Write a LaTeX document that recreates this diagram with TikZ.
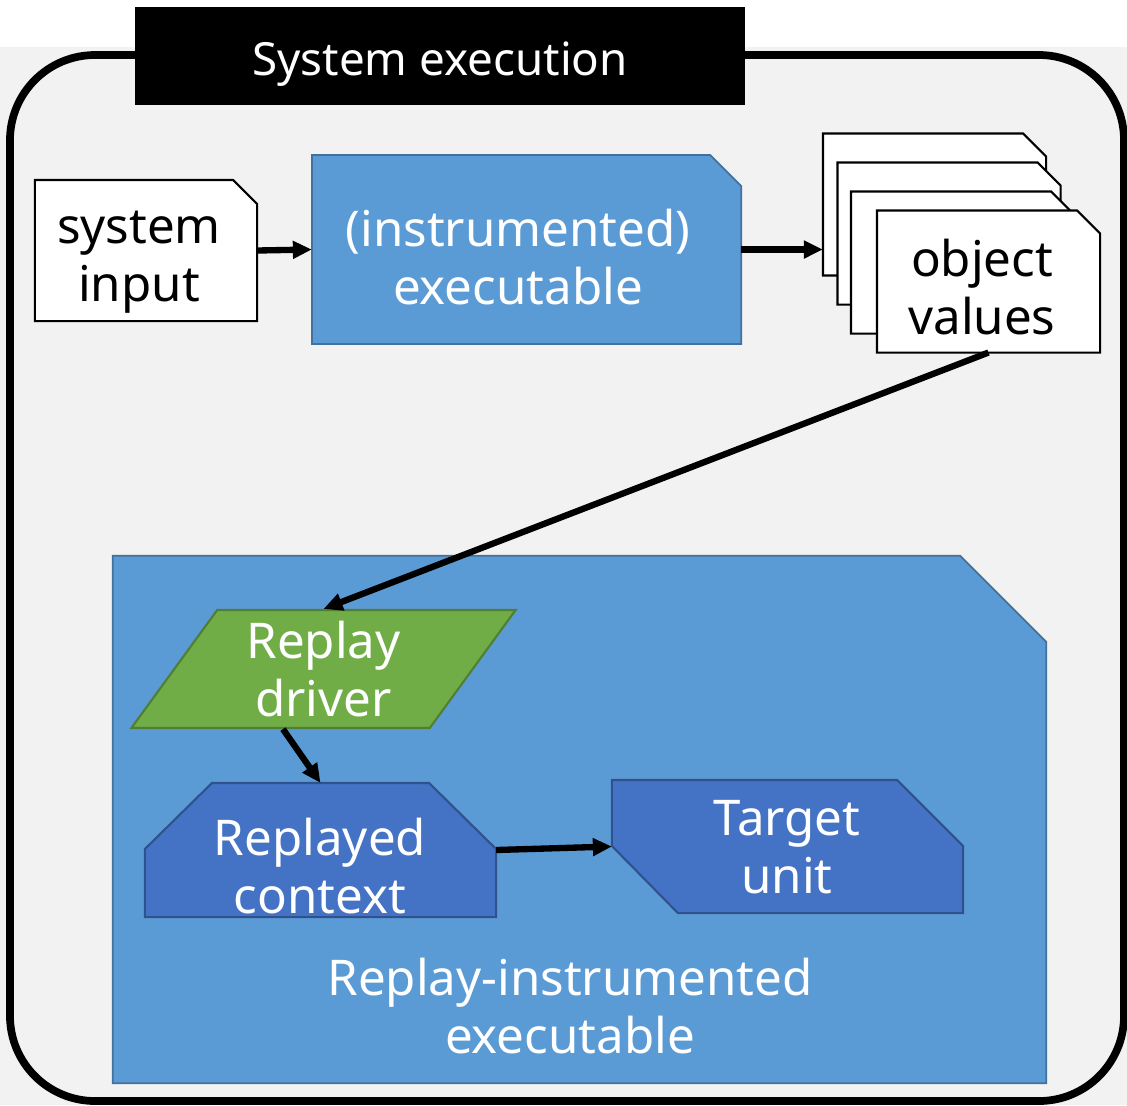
\documentclass[tikz,border=0pt]{standalone}
\usepackage{fontspec}
\setmainfont{Noto Sans}
\usetikzlibrary{arrows.meta,shapes.geometric}

\definecolor{paper}{HTML}{F2F2F2}
\definecolor{exeblue}{HTML}{5B9BD5}
\definecolor{exeedge}{HTML}{41719C}
\definecolor{unitblue}{HTML}{4472C4}
\definecolor{unitedge}{HTML}{2F528F}
\definecolor{drivergreen}{HTML}{70AD47}
\definecolor{driveredge}{HTML}{507E32}

% outline of a box whose north east corner is snipped off
\newcommand{\snipshape}[3]{%
  \draw[#3] (#1.south west) |- ([xshift=-#2]#1.north east) -- ([yshift=-#2]#1.north east) -- (#1.south east) -- cycle;}

\tikzset{
  area/.style={rectangle, inner sep=0pt, outer sep=0pt},
  docline/.style={draw=black, fill=white, line width=0.6pt},
  blueline/.style={draw=exeedge, fill=exeblue, line width=0.5pt},
  unitline/.style={draw=unitedge, fill=unitblue, line width=0.6pt},
  btxt/.style={font=\fontsize{14}{16.5}\selectfont, align=center, text=black},
  wtxt/.style={font=\fontsize{14}{16.5}\selectfont, align=center, text=white},
  arr/.style={-{Triangle[length=0.19cm,width=0.17cm]}, line width=1.8pt},
}

\begin{document}
\begin{tikzpicture}[x=0.01cm, y=-0.01cm]
    % Canvas and outer frame
    \useasboundingbox (0,0) rectangle (1127,1105);
    \fill[white] (0,0) rectangle (1127,1105);
    \fill[paper] (0,47) rectangle (1127,1105);
    \draw[line width=2.2pt, rounded corners=0.85cm] (10,55) rectangle (1124,1101);
    \node[fill=black, minimum width=6.1cm, minimum height=0.98cm, inner sep=0pt, text height=0.5cm, text depth=0.12cm, text=white, font=\fontsize{13}{15}\selectfont] (title) at (440,56) {System execution};

    % First run of the system
    \node[area, minimum width=2.22cm, minimum height=1.41cm] (sysin) at (146,250.5) {};
    \snipshape{sysin}{0.24cm}{docline}
    \node[btxt] (sysintxt) at (139,262) {system\\input};
    \node[area, minimum width=4.29cm, minimum height=1.89cm] (exe) at (526.5,249.5) {};
    \snipshape{exe}{0.31cm}{blueline}
    \node[wtxt] (exetxt) at (518,257) {(instrumented)\\executable};
    \foreach \name/\x/\y in {doca/934.5/204.5, docb/949/233.5, docc/962.5/262.5, docd/988.5/281.5} {
      \node[area, minimum width=2.23cm, minimum height=1.42cm] (\name) at (\x,\y) {};
      \snipshape{\name}{0.23cm}{docline}
    }
    \node[btxt] (doctxt) at (982,287) {object\\values};
    \draw[arr] (sysin.east) -- (exe.west);
    \draw[arr] (exe.east) -- (exe.east -| doca.west);

    % Replay run
    \node[area, minimum width=9.33cm, minimum height=5.27cm] (rie) at (579.5,819.5) {};
    \snipshape{rie}{0.86cm}{blueline}
    \node[wtxt] (rietxt) at (570,1006) {Replay-instrumented\\executable};
    \node[trapezium, trapezium left angle=57, trapezium right angle=123, trapezium stretches=true, minimum width=3.85cm, minimum height=1.18cm, inner sep=0pt, draw=driveredge, fill=drivergreen, line width=0.6pt, wtxt] (driver) at (323.5,669) {Replay\\driver};
    \node[area, minimum width=3.51cm, minimum height=1.34cm] (ctx) at (320.5,850) {};
    \draw[unitline] (ctx.south west) -- ([yshift=-0.66cm]ctx.north west) -- ([xshift=0.67cm]ctx.north west)
      -- ([xshift=-0.67cm]ctx.north east) -- ([yshift=-0.66cm]ctx.north east) -- (ctx.south east) -- cycle;
    \node[wtxt] (ctxtxt) at (320,866) {Replayed\\context};
    \node[area, minimum width=3.51cm, minimum height=1.33cm] (target) at (787.5,846.5) {};
    \draw[unitline] (target.north west) -- ([xshift=-0.66cm]target.north east) -- ([yshift=-0.66cm]target.north east)
      -- (target.south east) -- ([xshift=0.66cm]target.south west) -- ([yshift=0.67cm]target.south west) -- cycle;
    \node[wtxt] (targettxt) at (787,847) {Target\\unit};
    \draw[arr] (docd.south) -- (driver.north);
    \draw[arr] (driver.-124) -- (ctx.north);
    \draw[arr] (ctx.east) -- (target.west);
\end{tikzpicture}
\end{document}
